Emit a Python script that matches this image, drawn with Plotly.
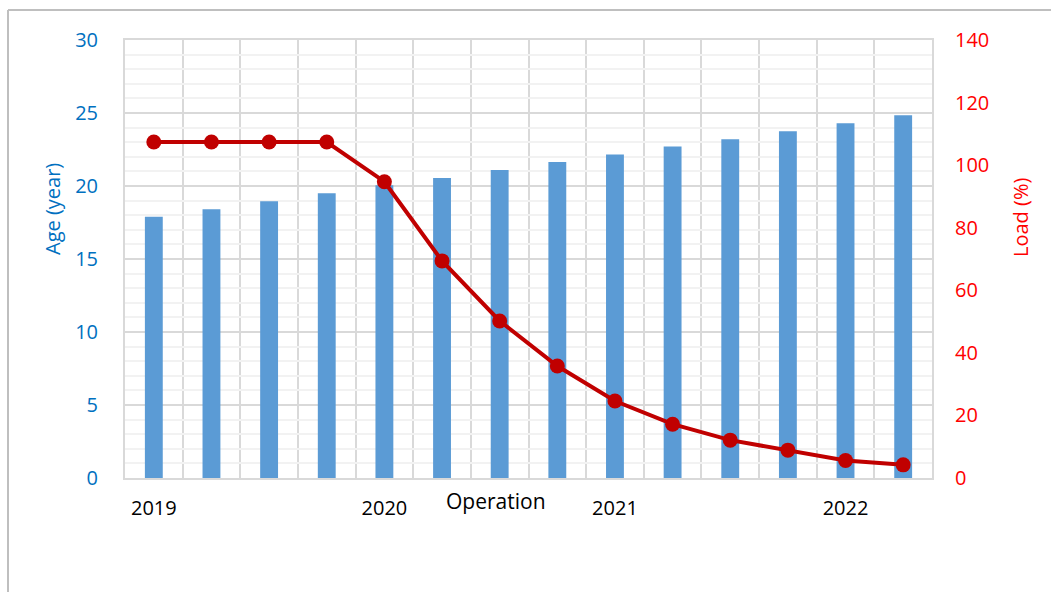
import plotly.graph_objects as go

# ---- data ----
quarters = ["2019 Q1", "2019 Q2", "2019 Q3", "2019 Q4",
            "2020 Q1", "2020 Q2", "2020 Q3", "2020 Q4",
            "2021 Q1", "2021 Q2", "2021 Q3", "2021 Q4",
            "2022 Q1", "2022 Q2"]
age_years = [17.9, 18.4, 18.95, 19.5, 20.05, 20.55, 21.1, 21.65,
             22.15, 22.7, 23.2, 23.75, 24.3, 24.85]
load_pct = [107.4, 107.4, 107.4, 107.4, 94.7, 69.4, 50.2, 35.8,
            24.6, 17.2, 12.1, 8.9, 5.6, 4.2]
year_labels = ["2019", "2020", "2021", "2022"]
year_label_quarters = ["2019 Q1", "2020 Q1", "2021 Q1", "2022 Q1"]

x_idx = list(range(len(quarters)))
year_tickvals = [quarters.index(q) for q in year_label_quarters]

FONT = "Open Sans"
BLUE_TXT = "#0070C0"
RED_TXT = "#FF0000"

fig = go.Figure()
fig.add_trace(go.Bar(
    x=x_idx, y=age_years, name="Age",
    marker=dict(color="#5B9BD5", line=dict(width=0)),
    yaxis="y", hovertext=quarters,
))
fig.add_trace(go.Scatter(
    x=x_idx, y=load_pct, name="Load", mode="lines+markers",
    line=dict(color="#C00000", width=4),
    marker=dict(color="#C00000", size=15),
    yaxis="y2", hovertext=quarters,
))

W, H = 1051, 592
L, R, T, B = 125, 119, 40, 114
pw = W - L - R
ph = H - T - B

def px2x(px):
    return (px - L) / pw

def px2y(py):
    return (H - B - py) / ph

fig.update_layout(
    width=W, height=H,
    margin=dict(l=L, r=R, t=T, b=B, pad=0),
    paper_bgcolor="white", plot_bgcolor="white",
    showlegend=False,
    bargap=0.69,
    font=dict(family=FONT, size=20, color="black"),
    xaxis=dict(
        range=[-0.5, len(quarters) - 0.5],
        tickmode="array", tickvals=year_tickvals, ticktext=year_labels,
        showgrid=False, zeroline=False,
        showline=True, linecolor="#D9D9D9", linewidth=2, mirror=True,
        ticks="", ticklabelstandoff=11,
        tickfont=dict(family=FONT, size=20, color="black"),
        minor=dict(tick0=-0.5, dtick=1, showgrid=True,
                   gridcolor="#D9D9D9", gridwidth=2),
    ),
    yaxis=dict(
        range=[0, 30], dtick=5, tick0=0,
        showgrid=True, gridcolor="#D9D9D9", gridwidth=2,
        zeroline=False,
        showline=True, linecolor="#D9D9D9", linewidth=2, mirror=True,
        ticks="", ticklabelstandoff=21,
        tickfont=dict(family=FONT, size=20, color=BLUE_TXT),
        minor=dict(dtick=1, showgrid=True, gridcolor="#F2F2F2", gridwidth=2),
    ),
    yaxis2=dict(
        range=[0, 140], dtick=20, tick0=0,
        overlaying="y", side="right",
        showgrid=False, zeroline=False, showline=False,
        ticks="", ticklabelstandoff=22,
        tickfont=dict(family=FONT, size=20, color=RED_TXT),
    ),
    annotations=[
        dict(text="Age (year)", textangle=-90, showarrow=False,
             xref="paper", yref="paper", x=px2x(53), y=px2y(209),
             xanchor="center", yanchor="middle",
             font=dict(family=FONT, size=20, color=BLUE_TXT)),
        dict(text="Load (%)", textangle=-90, showarrow=False,
             xref="paper", yref="paper", x=px2x(1020), y=px2y(218),
             xanchor="center", yanchor="middle",
             font=dict(family=FONT, size=20, color=RED_TXT)),
        dict(text="Operation", showarrow=False,
             xref="paper", yref="paper", x=px2x(496), y=px2y(501),
             xanchor="center", yanchor="middle",
             font=dict(family=FONT, size=21, color="black")),
    ],
    shapes=[
        dict(type="line", xref="paper", yref="paper",
             x0=px2x(8), x1=px2x(1060), y0=px2y(10), y1=px2y(10),
             line=dict(color="#BFBFBF", width=2)),
        dict(type="line", xref="paper", yref="paper",
             x0=px2x(8), x1=px2x(8), y0=px2y(10), y1=px2y(600),
             line=dict(color="#BFBFBF", width=2)),
    ],
)

fig.write_html(
    "out.html",
    config={"displayModeBar": False},
    post_script="document.body.style.margin='0';document.body.style.padding='0';",
)
